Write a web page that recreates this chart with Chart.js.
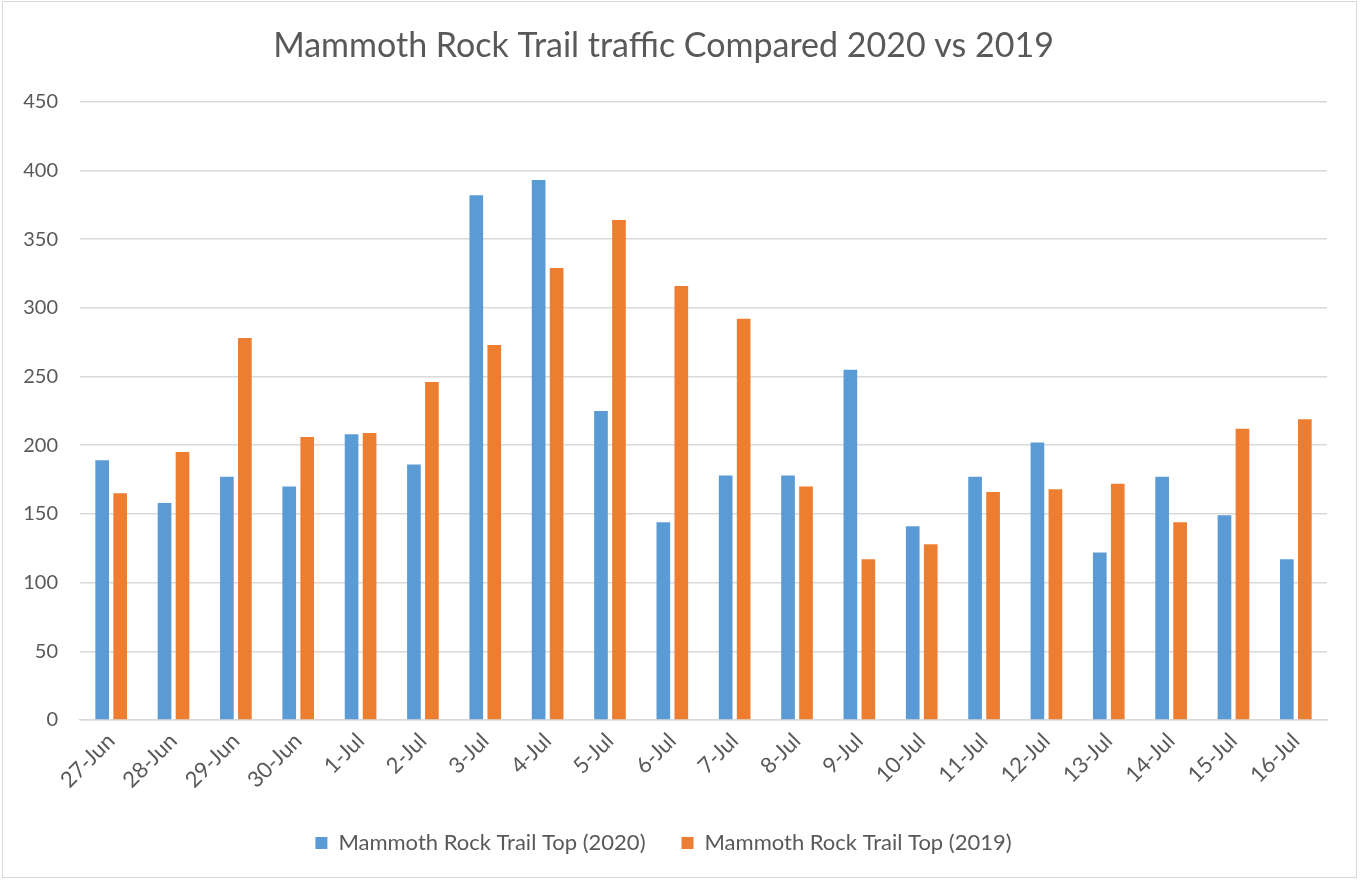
<!DOCTYPE html>
<html>
<head>
<meta charset="utf-8">
<title>Mammoth Rock Trail traffic</title>
<script src="https://cdn.jsdelivr.net/npm/chart.js@4.4.1/dist/chart.umd.min.js"></script>
<style>
    html, body { margin: 0; padding: 0; background: #fff; }
    #wrap { position: relative; width: 1367px; height: 880px; }
    #frame {
        position: absolute; left: 2px; top: 1px; width: 1353px; height: 875px;
        border: 1.5px solid #d9d9d9; pointer-events: none;
    }
</style>
</head>
<body>
<div id="wrap">
    <canvas id="chart" width="1367" height="880"></canvas>
    <div id="frame"></div>
</div>
<script>
const days = ['27-Jun', '28-Jun', '29-Jun', '30-Jun', '1-Jul', '2-Jul', '3-Jul', '4-Jul', '5-Jul', '6-Jul',
    '7-Jul', '8-Jul', '9-Jul', '10-Jul', '11-Jul', '12-Jul', '13-Jul', '14-Jul', '15-Jul', '16-Jul'];
const traffic2020 = [189, 158, 177, 170, 208, 186, 382, 393, 225, 144,
    178, 178, 255, 141, 177, 202, 122, 177, 149, 117];
const traffic2019 = [165, 195, 278, 206, 209, 246, 273, 329, 364, 316,
    292, 170, 117, 128, 166, 168, 172, 144, 212, 219];
const yTicks = [0, 50, 100, 150, 200, 250, 300, 350, 400, 450];

document.addEventListener('DOMContentLoaded', function () {
    const textColor = '#595959';
    const gridColor = '#d9d9d9';
    const fontFamily = 'Lato, "Open Sans", sans-serif';

    const ctx = document.getElementById('chart').getContext('2d');
    new Chart(ctx, {
        type: 'bar',
        data: {
            labels: days,
            datasets: [{
                label: 'Mammoth Rock Trail Top (2020)',
                data: traffic2020,
                backgroundColor: '#5b9bd5',
                categoryPercentage: 0.577,
                barPercentage: 0.76
            }, {
                label: 'Mammoth Rock Trail Top (2019)',
                data: traffic2019,
                backgroundColor: '#ed7d31',
                categoryPercentage: 0.577,
                barPercentage: 0.76
            }]
        },
        options: {
            responsive: false,
            animation: false,
            layout: { padding: { left: 0, right: 40, top: 0, bottom: 16 } },
            plugins: {
                title: {
                    display: true,
                    text: 'Mammoth Rock Trail traffic Compared 2020 vs 2019',
                    color: textColor,
                    font: { family: fontFamily, size: 34, weight: 'normal' },
                    padding: { top: 26, bottom: 35 }
                },
                legend: {
                    position: 'bottom',
                    labels: {
                        color: textColor,
                        font: { family: fontFamily, size: 22 },
                        boxWidth: 12,
                        boxHeight: 12,
                        padding: 36
                    }
                },
                tooltip: { enabled: false }
            },
            scales: {
                x: {
                    grid: { display: false, drawTicks: false },
                    border: { color: gridColor, width: 1.5 },
                    ticks: {
                        color: textColor,
                        font: { family: fontFamily, size: 22 },
                        maxRotation: 45,
                        minRotation: 45,
                        padding: 8
                    },
                    afterFit: function (axis) { axis.height = 76; }
                },
                y: {
                    min: 0,
                    max: 450,
                    afterBuildTicks: function (axis) {
                        axis.ticks = yTicks.map(v => ({ value: v }));
                    },
                    grid: { color: gridColor, lineWidth: 1.5, drawTicks: false },
                    border: { display: false },
                    ticks: {
                        color: textColor,
                        font: { family: fontFamily, size: 20 },
                        padding: 22
                    },
                    afterFit: function (axis) { axis.width = 80; }
                }
            }
        }
    });
});
</script>
</body>
</html>
